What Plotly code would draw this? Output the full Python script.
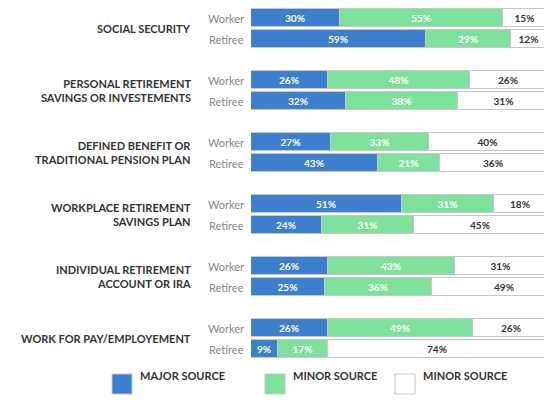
import plotly.graph_objects as go

categories = ["SOCIAL SECURITY", "PERSONAL RETIREMENT<br>SAVINGS OR INVESTEMENTS",
              "DEFINED BENEFIT OR<br>TRADITIONAL PENSION PLAN", "WORKPLACE RETIREMENT<br>SAVINGS PLAN",
              "INDIVIDUAL RETIREMENT<br>ACCOUNT OR IRA", "WORK FOR PAY/EMPLOYEMENT"]
groups = ["Worker", "Retiree"]
major = [[30, 59], [26, 32], [27, 43], [51, 24], [26, 25], [26, 9]]
minor = [[55, 29], [48, 38], [33, 21], [31, 31], [43, 36], [49, 17]]
other = [[15, 12], [26, 31], [40, 36], [18, 45], [31, 49], [26, 74]]
legend_names = ["MAJOR SOURCE", "MINOR SOURCE", "MINOR SOURCE"]

BLUE, GREEN, WHITE = "#3b7fcd", "#7ee19b", "#ffffff"
OFF = 8  # page body margin
W, H = 552 - OFF, 403 - OFF
L, B = 251 - OFF, 403 - OFF - 358
ph = H - B

def Y(y): return y - OFF  # reference pixel -> data y
def px(x): return (x - OFF - L) / (W - 5 - L)
def py(y): return 1 - (y - OFF) / ph

ys, m, n, o = [], [], [], []
for i in range(len(categories)):
    for j in range(2):
        ys.append(Y(18 + 62 * i + 21 * j))
        m.append(major[i][j]); n.append(minor[i][j]); o.append(other[i][j])

fig = go.Figure()
for vals, col, tcol in [(m, BLUE, "white"), (n, GREEN, "white"), (o, WHITE, "#333")]:
    fig.add_trace(go.Bar(x=vals, y=ys, orientation="h", width=18,
                         marker=dict(color=col, line=dict(color="#c8c8c8", width=1)),
                         text=[f"{v}%" for v in vals], textposition="inside",
                         insidetextanchor="middle", textangle=0,
                         textfont=dict(color=tcol, size=11, family="Lato", weight="bold"),
                         showlegend=False, hoverinfo="skip"))

for i, c in enumerate(categories):
    fig.add_annotation(x=px(193), y=Y(28 + 62 * i), xref="paper", yref="y", text=f"<b>{c}</b>",
                       showarrow=False, xanchor="right", align="right",
                       font=dict(size=11, color="#333", family="Lato"))
    for j, g in enumerate(groups):
        fig.add_annotation(x=px(246), y=Y(18 + 62 * i + 21 * j), xref="paper", yref="y", text=g,
                           showarrow=False, xanchor="right",
                           font=dict(size=11, color="#888", family="Lato"))

for x0, col, name in [(112, BLUE, legend_names[0]), (265, GREEN, legend_names[1]), (395, WHITE, legend_names[2])]:
    fig.add_shape(type="rect", xref="paper", yref="paper", x0=px(x0), x1=px(x0 + 20),
                  y0=py(394), y1=py(374), fillcolor=col, line=dict(color="#c8c8c8", width=1))
    fig.add_annotation(x=px(x0 + 26), y=py(384), xref="paper", yref="paper", text=name,
                       showarrow=False, xanchor="left",
                       font=dict(size=11, color="#333", family="Lato", weight="bold"))

fig.update_layout(barmode="stack", width=W, height=H, paper_bgcolor="white", plot_bgcolor="white",
                  margin=dict(l=L, r=5, t=0, b=B), bargap=0,
                  xaxis=dict(range=[0, 100], visible=False, fixedrange=True),
                  yaxis=dict(range=[ph, 0], visible=False))
fig.write_html("out.html")
